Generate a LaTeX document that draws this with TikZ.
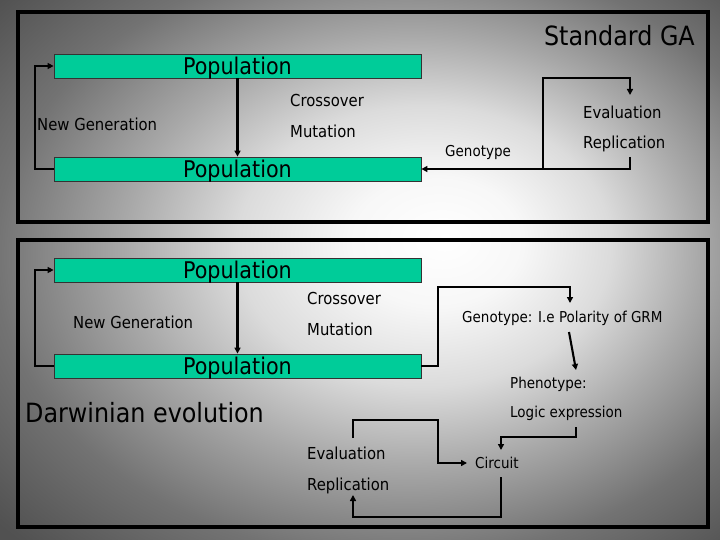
\documentclass[tikz,border=0pt]{standalone}
\usepackage{fontspec}
\setmainfont{DejaVu Sans Condensed}
\usetikzlibrary{arrows.meta, positioning}
\definecolor{popgreen}{RGB}{0,204,153}
\pgfdeclareradialshading{slidebg}{\pgfpoint{6bp}{3bp}}{%
  color(0bp)=(white); color(6bp)=(white!97!black);
  color(13bp)=(white!86!black); color(20bp)=(white!66!black);
  color(28bp)=(white!45!black); color(36bp)=(white!32!black);
  color(50bp)=(white!26!black)}
\tikzset{
  popbar/.style  = {draw=black!80, line width=0.8pt, fill=popgreen,
                    minimum width=367pt, minimum height=24pt, inner sep=0pt,
                    text depth=0pt, font=\fontsize{23}{23}\selectfont},
  lbl/.style     = {anchor=west, inner sep=0pt, font=\fontsize{16.5}{16.5}\selectfont},
  thinlbl/.style = {anchor=west, inner sep=0pt, font=\fontsize{15}{15}\selectfont},
  biglbl/.style  = {inner sep=0pt, font=\fontsize{26.5}{26.5}\selectfont},
  arr/.style     = {-{Triangle[length=6pt,width=6pt]}, line width=2.1pt},
  frame/.style   = {draw=black, line width=3.5pt},
}
\begin{document}
\begin{tikzpicture}[x=1pt, y=-1pt]
\useasboundingbox (0,0) rectangle (720,540);
\shade[shading=slidebg] (0,0) rectangle (720,540);

% two panels
\draw[frame] (18,12) rectangle (708,222);
\draw[frame] (18,240) rectangle (708,527);

% ---- standard GA ----
\node[biglbl, anchor=east] (stdga) at (695,36) {Standard GA};
\node[popbar] (popA) at (237.5,66) {Population};
\node[popbar] (popB) at (237.5,169) {Population};
\node[lbl] (newgenA) at (37,124) {New Generation};
\node[lbl] (crossA) at (290,100) {Crossover};
\node[lbl] (mutA) at (290,131) {Mutation};
\node[thinlbl] (genoA) at (445,152) {Genotype};
\node[lbl] (evalA) at (583,112) {Evaluation};
\node[lbl] (repA) at (583,144) {Replication};
\coordinate (repOutA) at (630,157);
\coordinate (splitA) at (543,169);
\coordinate (evalInA) at (630,95);

\draw[arr] (popA.south) -- (popB.north);
\draw[arr] (popB.west) -- ++(-19,0) |- (popA.west);
\draw[arr] (repOutA) |- (popB.east);
\draw[arr] (splitA) -- ++(0,-91) -| (evalInA);

% ---- Darwinian evolution ----
\node[popbar] (popC) at (237.5,270) {Population};
\node[popbar] (popD) at (237.5,366) {Population};
\node[lbl] (newgenB) at (73,322) {New Generation};
\node[lbl] (crossB) at (307,298) {Crossover};
\node[lbl] (mutB) at (307,329) {Mutation};
\node[biglbl, anchor=west] (darwin) at (25,413) {Darwinian evolution};
\node[thinlbl] (genoB) at (462,318) {Genotype: I.e Polarity of GRM};
\node[thinlbl] (pheno) at (510,384) {Phenotype:};
\node[thinlbl] (logic) at (510,413) {Logic expression};
\node[thinlbl] (circ) at (475,463) {Circuit};
\node[lbl] (evalB) at (307,453) {Evaluation};
\node[lbl] (repB) at (307,486) {Replication};
\coordinate (genoIn) at (570,303);
\coordinate (genoOut) at (569,332);
\coordinate (phenoIn) at (576,370);
\coordinate (logicOut) at (576,427);
\coordinate (circIn) at (501,450);
\coordinate (circOut) at (501,477);
\coordinate (circL) at (467,463);
\coordinate (evalOut) at (353,438);
\coordinate (repIn) at (353,495);

\draw[arr] (popC.south) -- (popD.north);
\draw[arr] (popD.west) -- ++(-19,0) |- (popC.west);
\draw[arr] (popD.east) -- ++(17,0) -- ++(0,-79) -| (genoIn);
\draw[arr] (genoOut) -- (phenoIn);
\draw[arr] (logicOut) -- ++(0,10) -| (circIn);
\draw[arr] (circOut) -- ++(0,40) -| (repIn);
\draw[arr] (evalOut) -- ++(0,-18) -- ++(85,0) |- (circL);
\end{tikzpicture}
\end{document}
